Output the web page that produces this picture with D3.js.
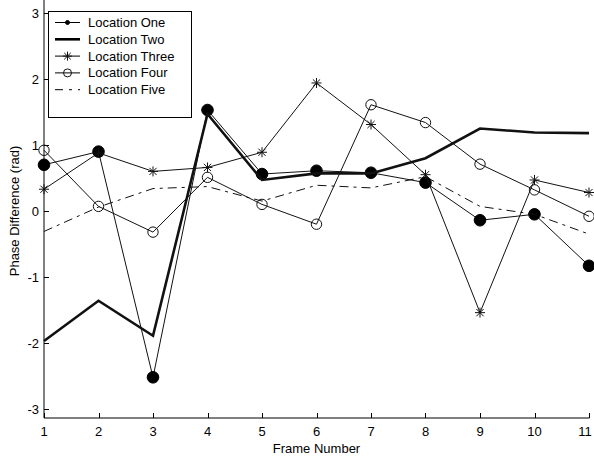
<!DOCTYPE html>
<html>
<head>
<meta charset="utf-8">
<script src="https://cdn.jsdelivr.net/npm/d3@7"></script>
<style>
  body { margin: 0; background: #fff; }
  svg text { font-family: "Liberation Sans", Arial, sans-serif; fill: #000; }
</style>
</head>
<body>
<svg id="chart" width="594" height="459"></svg>
<script>
// Chart data.
const frames = [1, 2, 3, 4, 5, 6, 7, 8, 9, 10, 11];
const locationOne = [0.70, 0.90, -2.52, 1.53, 0.56, 0.61, 0.58, 0.43, -0.14, -0.05, -0.83];
const locationTwo = [-1.97, -1.36, -1.89, 1.47, 0.47, 0.57, 0.57, 0.80, 1.25, 1.19, 1.18];
const locationThree = [0.33, 0.88, 0.60, 0.66, 0.89, 1.94, 1.31, 0.55, -1.54, 0.47, 0.28];
const locationFour = [0.92, 0.07, -0.32, 0.51, 0.10, -0.20, 1.61, 1.34, 0.71, 0.32, -0.08];
const locationFive = [-0.31, 0.06, 0.34, 0.37, 0.15, 0.39, 0.35, 0.52, 0.07, -0.05, -0.35];
const yTicks = [-3, -2, -1, 0, 1, 2, 3];

const series = [
  { name: "Location One", values: locationOne, width: 1, marker: "dot", dash: null },
  { name: "Location Two", values: locationTwo, width: 2.6, marker: null, dash: null },
  { name: "Location Three", values: locationThree, width: 1, marker: "star", dash: null },
  { name: "Location Four", values: locationFour, width: 1, marker: "circle", dash: null },
  { name: "Location Five", values: locationFive, width: 1, marker: null, dash: "9,5,3,5" }
];

const svg = d3.select("#chart");

// plot area in pixels
const plotLeft = 44, plotRight = 589, plotBottom = 418, plotTop = 0;

const x = d3.scaleLinear().domain([1, 11]).range([plotLeft, plotRight]);
const y = d3.scaleLinear().domain([-3, 3]).range([409, 13]);

// MATLAB style star (plus + cross)
function starPath(r) {
  const d = r * 0.72;
  return `M${-r},0L${r},0M0,${-r}L0,${r}M${-d},${-d}L${d},${d}M${-d},${d}L${d},${-d}`;
}

function drawMarker(sel, type, big) {
  if (type === "dot") {
    sel.append("circle").attr("r", big ? 5.8 : 2)
      .attr("fill", "#000").attr("stroke", "#000");
  } else if (type === "circle") {
    sel.append("circle").attr("r", big ? 5.2 : 4)
      .attr("fill", "none").attr("stroke", "#111").attr("stroke-width", 1);
  } else if (type === "star") {
    sel.append("path").attr("d", starPath(big ? 5 : 4.5))
      .attr("fill", "none").attr("stroke", "#111").attr("stroke-width", 1);
  }
}

// Axes lines
svg.append("line").attr("x1", plotLeft).attr("x2", plotLeft).attr("y1", plotTop).attr("y2", plotBottom)
  .attr("stroke", "#000");
svg.append("line").attr("x1", plotLeft).attr("x2", plotRight + 0.5).attr("y1", plotBottom).attr("y2", plotBottom)
  .attr("stroke", "#000");

// y ticks (inward)
const yAxis = svg.append("g");
yTicks.forEach(t => {
  yAxis.append("line").attr("x1", plotLeft).attr("x2", plotLeft + 5)
    .attr("y1", Math.round(y(t)) + 0.5).attr("y2", Math.round(y(t)) + 0.5)
    .attr("stroke", "#000");
  yAxis.append("text").attr("x", plotLeft - 5).attr("y", y(t)).attr("dy", "0.35em")
    .attr("text-anchor", "end").attr("font-size", "13px").text(t);
});

// x ticks (inward)
const xAxis = svg.append("g");
frames.forEach(f => {
  xAxis.append("line").attr("x1", Math.round(x(f)) + 0.5).attr("x2", Math.round(x(f)) + 0.5)
    .attr("y1", plotBottom).attr("y2", plotBottom - 5).attr("stroke", "#000");
  // last label sits against the right edge, keep it inside the page
  xAxis.append("text").attr("x", Math.min(x(f), 585)).attr("y", plotBottom + 18)
    .attr("text-anchor", "middle").attr("font-size", "13px").text(f);
});

// Axis titles
svg.append("text").attr("x", (plotLeft + plotRight) / 2).attr("y", 453)
  .attr("text-anchor", "middle").attr("font-size", "13px").text("Frame Number");
svg.append("text").attr("transform", `translate(19, ${y(0)}) rotate(-90)`)
  .attr("text-anchor", "middle").attr("font-size", "13px").text("Phase Difference (rad)");

// Lines
const line = d3.line().x((d, i) => x(frames[i])).y(d => y(d));

series.forEach(s => {
  svg.append("path").datum(s.values)
    .attr("d", line)
    .attr("fill", "none")
    .attr("stroke", "#111")
    .attr("stroke-width", s.width)
    .attr("stroke-linejoin", "miter")
    .attr("stroke-dasharray", s.dash);
  if (s.marker) {
    const m = svg.append("g").selectAll("g")
      .data(s.values).join("g")
      .attr("transform", (d, i) => `translate(${x(frames[i])},${y(d)})`);
    drawMarker(m, s.marker, true);
  }
});

// Legend
const legend = svg.append("g");
legend.append("rect").attr("x", 48.5).attr("y", 11.5).attr("width", 143).attr("height", 106)
  .attr("fill", "#fff").attr("stroke", "#000");
series.forEach((s, i) => {
  const ly = 22.5 + i * 16.8;
  legend.append("line").attr("x1", 55).attr("x2", 80).attr("y1", ly).attr("y2", ly)
    .attr("stroke", "#000").attr("stroke-width", s.width)
    .attr("stroke-dasharray", s.dash ? "8,6,3,6" : null);
  if (s.marker) {
    const g = legend.append("g").attr("transform", `translate(67.5,${ly})`);
    drawMarker(g, s.marker, false);
  }
  legend.append("text").attr("x", 88).attr("y", ly).attr("dy", "0.35em")
    .attr("font-size", "13px").text(s.name);
});
</script>
</body>
</html>
